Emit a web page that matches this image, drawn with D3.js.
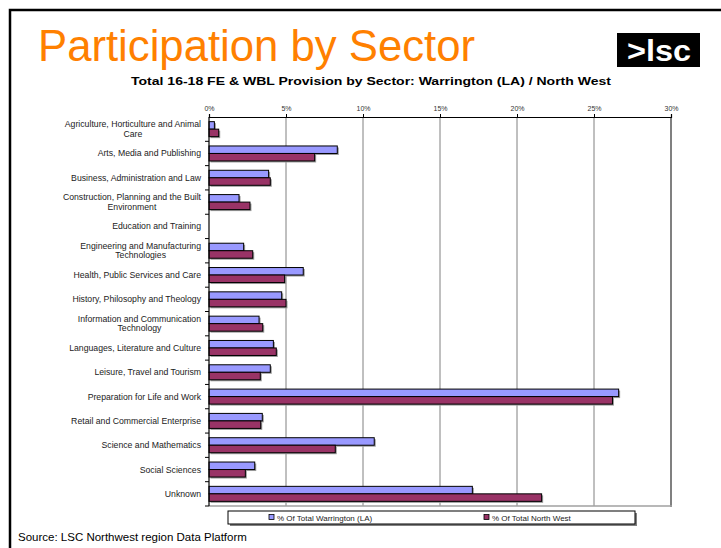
<!DOCTYPE html>
<html>
<head>
<meta charset="utf-8">
<script src="https://cdn.jsdelivr.net/npm/d3@7"></script>
<style>
  html, body { margin: 0; padding: 0; background: #fff; }
  svg { display: block; font-family: "Liberation Sans", Arial, sans-serif; }
</style>
</head>
<body>
<svg id="chart" width="721" height="548"></svg>
<script>
// ---- data ----
const categories = [
  "Agriculture, Horticulture and Animal Care",
  "Arts, Media and Publishing",
  "Business, Administration and Law",
  "Construction, Planning and the Built Environment",
  "Education and Training",
  "Engineering and Manufacturing Technologies",
  "Health, Public Services and Care",
  "History, Philosophy and Theology",
  "Information and Communication Technology",
  "Languages, Literature and Culture",
  "Leisure, Travel and Tourism",
  "Preparation for Life and Work",
  "Retail and Commercial Enterprise",
  "Science and Mathematics",
  "Social Sciences",
  "Unknown"
];
const warrington = [0.35, 8.33, 3.87, 1.95, 0, 2.25, 6.12, 4.72, 3.25, 4.18, 3.98, 26.6, 3.46, 10.73, 2.97, 17.1];
const northWest  = [0.63, 6.86, 3.98, 2.66, 0, 2.84, 4.91, 5.0, 3.49, 4.37, 3.33, 26.2, 3.36, 8.2, 2.36, 21.6];
const seriesNames = ["% Of Total Warrington (LA)", "% Of Total North West"];
const tickValues = [0, 5, 10, 15, 20, 25, 30];
const tickLabels = ["0%", "5%", "10%", "15%", "20%", "25%", "30%"];

const colors = ["#9999FF", "#993366"];

const svg = d3.select("#chart");

// page frame
svg.append("rect").attr("x", 10).attr("y", 10).attr("width", 740).attr("height", 560)
  .attr("fill", "none").attr("stroke", "#000").attr("stroke-width", 2.5);

// title
svg.append("text").attr("x", 38).attr("y", 61)
  .attr("font-size", 44).attr("fill", "#FF8000")
  .attr("textLength", 437).attr("lengthAdjust", "spacingAndGlyphs")
  .text("Participation by Sector");

// logo
svg.append("rect").attr("x", 617).attr("y", 33).attr("width", 83).attr("height", 34).attr("fill", "#000");
svg.append("text").attr("x", 659).attr("y", 61).attr("text-anchor", "middle")
  .attr("font-size", 29).attr("font-weight", "bold").attr("fill", "#fff")
  .attr("textLength", 64).attr("lengthAdjust", "spacingAndGlyphs")
  .text(">lsc");

// subtitle
svg.append("text").attr("x", 371).attr("y", 85).attr("text-anchor", "middle")
  .attr("font-size", 11).attr("font-weight", "bold").attr("fill", "#000")
  .attr("textLength", 480).attr("lengthAdjust", "spacingAndGlyphs")
  .text("Total 16-18 FE & WBL Provision by Sector: Warrington (LA) / North West");

// ---- scales ----
const plot = { left: 209, right: 671, top: 117, bottom: 506 };
const x = d3.scaleLinear().domain([0, 30]).range([plot.left, plot.right]);
const y = d3.scaleBand().domain(categories).range([plot.top, plot.bottom]).padding(0);
const inner = d3.scaleBand().domain([0, 1]).range([0, y.bandwidth()]).paddingInner(0).paddingOuter(0.62);

// gridlines
svg.append("g").selectAll("line").data(tickValues.filter(v => v > 0 && v < 30)).join("line")
  .attr("x1", d => x(d)).attr("x2", d => x(d))
  .attr("y1", plot.top).attr("y2", plot.bottom)
  .attr("stroke", "#808080").attr("stroke-width", 1);

// plot border (right & bottom grey)
svg.append("line").attr("x1", x(30)).attr("x2", x(30)).attr("y1", plot.top).attr("y2", plot.bottom + 1)
  .attr("stroke", "#808080").attr("stroke-width", 2);
svg.append("line").attr("x1", plot.left).attr("x2", x(30) + 1).attr("y1", plot.bottom).attr("y2", plot.bottom)
  .attr("stroke", "#a0a0a0").attr("stroke-width", 1.5);

// bars
const rows = categories.map((c, i) => ({ c, vals: [warrington[i], northWest[i]] }));
const groups = svg.append("g").selectAll("g").data(rows).join("g")
  .attr("transform", d => `translate(0,${y(d.c)})`);
const bars = groups.selectAll("g").data(d => d.vals.map((v, s) => ({ v, s }))).join("g")
  .filter(d => d.v > 0);
bars.append("rect")
  .attr("x", x(0) + 1.5).attr("y", d => inner(d.s) + 1.5)
  .attr("width", d => x(d.v) - x(0)).attr("height", inner.bandwidth())
  .attr("fill", "#9a9a9a");
bars.append("rect")
  .attr("x", x(0)).attr("y", d => inner(d.s))
  .attr("width", d => x(d.v) - x(0)).attr("height", inner.bandwidth())
  .attr("fill", d => colors[d.s]).attr("stroke", "#000").attr("stroke-width", 1);

// top axis
const axisTop = d3.axisTop(x).tickValues(tickValues).tickSize(3).tickPadding(3)
  .tickFormat((d, i) => tickLabels[i]);
const gx = svg.append("g").attr("transform", `translate(0,${plot.top})`).call(axisTop);
gx.select(".domain").attr("stroke", "#000").attr("stroke-width", 1.2);
gx.selectAll(".tick line").attr("stroke", "#000");
gx.selectAll(".tick text").attr("font-size", 7).attr("fill", "#333")
  .attr("font-family", "Liberation Sans, Arial, sans-serif");

// left axis line + boundary ticks
svg.append("line").attr("x1", plot.left).attr("x2", plot.left).attr("y1", plot.top).attr("y2", plot.bottom)
  .attr("stroke", "#000").attr("stroke-width", 1.2);
const bounds = categories.map(c => y(c)).concat([plot.bottom]).slice(1);
svg.append("g").selectAll("line").data(bounds).join("line")
  .attr("x1", plot.left - 4).attr("x2", plot.left).attr("y1", d => d).attr("y2", d => d)
  .attr("stroke", "#000");

// category labels (wrapped, centred block, right aligned)
const labelRight = 201;
const lg = svg.append("g").attr("font-size", 8.7).attr("fill", "#222");
const measure = lg.append("text").attr("visibility", "hidden");
function width(s) { measure.text(s); return measure.node().getComputedTextLength(); }
categories.forEach(c => {
  const words = c.split(" ");
  const lines = [];
  let cur = "";
  words.forEach(w => {
    const t = cur ? cur + " " + w : w;
    if (cur && width(t) > 145) { lines.push(cur); cur = w; } else cur = t;
  });
  lines.push(cur);
  const maxW = d3.max(lines, width);
  const cx = labelRight - maxW / 2;
  const cy = y(c) + y.bandwidth() / 2;
  const lh = 9.5;
  lines.forEach((ln, k) => {
    lg.append("text").attr("x", cx).attr("text-anchor", "middle")
      .attr("y", cy + (k - (lines.length - 1) / 2) * lh + 3)
      .text(ln);
  });
});
measure.remove();

// legend
const leg = svg.append("g");
leg.append("rect").attr("x", 230).attr("y", 513).attr("width", 407).attr("height", 13).attr("fill", "#808080");
leg.append("rect").attr("x", 228).attr("y", 511).attr("width", 407).attr("height", 13)
  .attr("fill", "#fff").attr("stroke", "#000").attr("stroke-width", 1);
const legX = [269, 484];
seriesNames.forEach((n, i) => {
  leg.append("rect").attr("x", legX[i]).attr("y", 514.5).attr("width", 5).attr("height", 5)
    .attr("fill", colors[i]).attr("stroke", "#000").attr("stroke-width", 0.8);
  leg.append("text").attr("x", legX[i] + 8).attr("y", 520.5)
    .attr("font-size", 8).attr("fill", "#222").text(n);
});

// source
svg.append("text").attr("x", 18).attr("y", 541).attr("font-size", 11.5).attr("fill", "#000")
  .text("Source: LSC Northwest region Data Platform");
</script>
</body>
</html>
